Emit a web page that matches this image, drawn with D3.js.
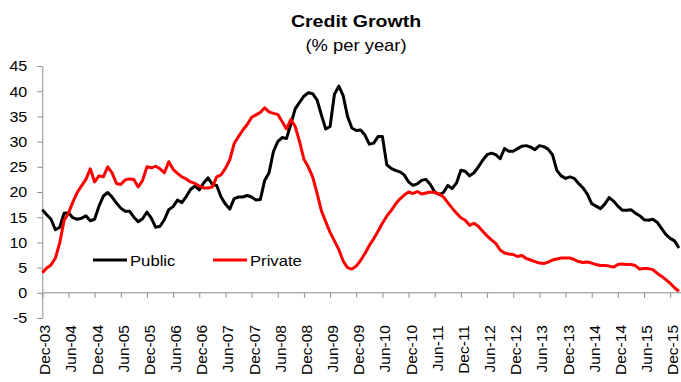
<!DOCTYPE html>
<html>
<head>
<meta charset="utf-8">
<script src="https://cdn.jsdelivr.net/npm/d3@7"></script>
<style>
  html, body { margin: 0; padding: 0; background: #fff; }
  svg { display: block; }
  text { font-family: "Liberation Sans", Arial, sans-serif; }
</style>
</head>
<body>
<svg id="chart" width="681" height="382"></svg>
<script>
// Monthly observations, Dec-03 .. Feb-16
const categories = d3.timeMonth.range(new Date(2003, 11, 1), new Date(2016, 2, 1))
  .map(d3.timeFormat("%b-%y"));

const publicCredit = [
  16.5,15.5,14.6,12.5,13.0,15.8,15.9,14.9,14.6,14.8,15.3,14.3,14.6,17.2,19.2,19.9,19.0,17.8,16.8,16.2,
  16.2,15.0,14.1,14.7,16.0,14.8,13.0,13.2,14.5,16.5,17.1,18.4,17.9,19.1,20.5,21.2,20.4,21.8,22.8,21.5,
  21.3,19.0,17.6,16.6,18.7,19.0,19.0,19.3,19.0,18.4,18.5,22.3,23.8,28.0,30.0,30.8,30.6,33.5,36.5,37.8,
  39.0,39.7,39.5,38.3,35.3,32.5,33.0,39.4,41.0,39.1,35.0,32.7,32.2,32.3,31.3,29.5,29.7,31.0,31.0,25.4,
  24.7,24.3,24.0,23.4,22.0,21.3,21.6,22.3,22.5,21.5,20.0,19.5,19.9,21.3,20.7,21.8,24.3,24.1,23.2,23.8,
  25.0,26.3,27.4,27.7,27.4,26.6,28.6,28.1,28.1,28.6,29.1,29.2,28.9,28.4,29.2,29.0,28.5,27.4,24.3,23.2,
  22.7,23.0,22.7,21.7,20.8,19.6,17.7,17.2,16.7,17.6,18.9,18.2,17.2,16.4,16.4,16.5,15.8,15.3,14.5,14.4,
  14.6,14.0,12.8,11.6,10.8,10.3,8.9
];

const privateCredit = [
  4.0,4.9,5.5,6.9,9.9,14.4,15.8,18.0,19.9,21.2,22.5,24.6,22.0,23.2,23.0,25.0,23.8,21.7,21.5,22.4,
  22.6,22.5,21.0,22.3,25.0,24.8,25.1,24.6,23.8,26.0,24.5,23.7,23.0,22.6,22.0,21.7,21.2,20.8,20.8,21.0,
  23.0,23.4,24.7,26.4,29.6,31.0,32.3,33.4,34.8,35.3,35.8,36.7,35.9,35.6,35.4,34.0,32.5,34.4,33.0,30.0,
  26.5,25.0,23.0,19.8,16.3,14.1,12.0,10.3,8.6,6.3,5.0,4.7,5.3,6.4,7.8,9.4,10.7,12.2,13.8,15.2,
  16.3,17.6,18.6,19.4,20.0,19.7,20.1,19.6,19.8,20.0,19.9,19.6,19.0,17.9,16.8,15.8,14.9,14.4,13.4,13.8,
  13.2,12.2,11.3,10.5,9.8,8.5,7.9,7.7,7.6,7.2,7.4,6.8,6.5,6.2,5.9,5.8,6.1,6.5,6.7,6.9,
  6.9,6.9,6.6,6.2,6.0,6.1,5.9,5.6,5.4,5.4,5.3,5.1,5.6,5.7,5.6,5.6,5.4,4.7,4.8,4.8,
  4.6,3.9,3.3,2.6,1.9,1.0,0.3
];

const yTicks = [-5, 0, 5, 10, 15, 20, 25, 30, 35, 40, 45];
const xTickLabels = ["Dec-03","Jun-04","Dec-04","Jun-05","Dec-05","Jun-06","Dec-06","Jun-07",
  "Dec-07","Jun-08","Dec-08","Jun-09","Dec-09","Jun-10","Dec-10","Jun-11","Dec-11","Jun-12",
  "Dec-12","Jun-13","Dec-13","Jun-14","Dec-14","Jun-15","Dec-15"];

const seriesNames = ["Public", "Private"];
const seriesColors = ["#000000", "#ff0000"];

const svg = d3.select("#chart");
const axisColor = "#8c8c8c";
const sx = 1.15; // horizontal stretch of the source text

const x = d3.scalePoint().domain(categories).range([42.3, 678.9]);
const y = d3.scaleLinear().domain([-5, 45]).range([318, 66]);

// Title
function stretchedText(g, tx, ty, str, size, weight, anchor) {
  g.append("text")
    .attr("transform", `translate(${tx},${ty}) scale(${sx},1)`)
    .attr("text-anchor", anchor)
    .attr("font-size", size)
    .attr("font-weight", weight)
    .attr("fill", "#000")
    .text(str);
}
stretchedText(svg, 356, 27, "Credit Growth", 17, "bold", "middle");
stretchedText(svg, 356, 51, "(% per year)", 16, "normal", "middle");

// Y axis
const yAxis = d3.axisLeft(y).tickValues(yTicks).tickSize(5).tickSizeOuter(0)
  .tickFormat(d3.format("d"));
const gy = svg.append("g").attr("transform", "translate(42.3,0)").call(yAxis);
gy.select(".domain").attr("stroke", axisColor);
gy.selectAll(".tick line").attr("stroke", axisColor);
gy.selectAll(".tick text").remove();
gy.selectAll(".tick").each(function(d) {
  d3.select(this).append("text")
    .attr("transform", `translate(-15,0) scale(${sx},1)`)
    .attr("text-anchor", "end")
    .attr("dy", "0.35em")
    .attr("font-size", 14)
    .attr("fill", "#000")
    .text(d);
});

// X axis at zero
const xAxis = d3.axisBottom(x).tickValues(xTickLabels).tickSize(5).tickSizeOuter(0).tickFormat(() => "");
const gx = svg.append("g").attr("transform", `translate(0,${y(0)})`).call(xAxis);
gx.select(".domain").attr("stroke", axisColor).attr("d", `M${x.range()[0]},0H681`);
gx.selectAll(".tick line").attr("stroke", axisColor);

// X labels at bottom, rotated
svg.append("g").selectAll("text").data(xTickLabels).join("text")
  .attr("transform", d => `translate(${x(d) + 8},325) rotate(-90)`)
  .attr("text-anchor", "end")
  .attr("font-size", 15.5)
  .attr("fill", "#000")
  .text(d => d);

// Lines
const line = d3.line().x((d, i) => x(categories[i])).y(d => y(d));
[publicCredit, privateCredit].forEach((vals, k) => {
  svg.append("path")
    .datum(vals)
    .attr("fill", "none")
    .attr("stroke", seriesColors[k])
    .attr("stroke-width", 3)
    .attr("stroke-linejoin", "round")
    .attr("d", line);
});

// Legend
const legendX = [93, 213];
seriesNames.forEach((name, k) => {
  const g = svg.append("g");
  g.append("line")
    .attr("x1", legendX[k]).attr("x2", legendX[k] + 34)
    .attr("y1", 260).attr("y2", 260)
    .attr("stroke", seriesColors[k]).attr("stroke-width", 3);
  g.append("text")
    .attr("transform", `translate(${legendX[k] + 37},265.5) scale(${sx},1)`)
    .attr("font-size", 14.5)
    .attr("fill", "#000")
    .text(name);
});
</script>
</body>
</html>
